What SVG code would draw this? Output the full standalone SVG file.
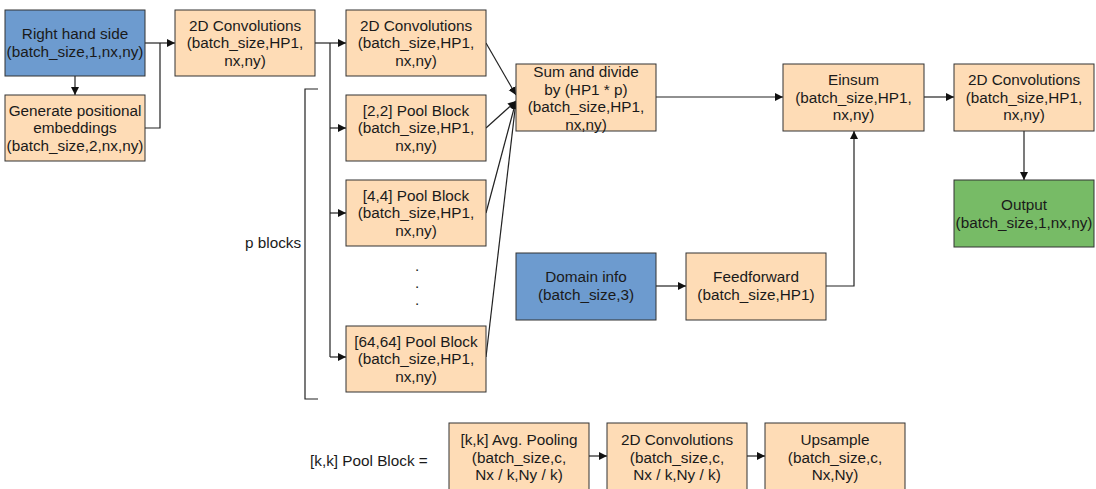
<svg xmlns="http://www.w3.org/2000/svg" width="1096" height="489" viewBox="0 0 1096 489">
<style>
.box{stroke:#333;stroke-width:1}
.o{fill:#fedcb6}
.b{fill:#6d9bcf}
.g{fill:#77bb66}
text{font-family:"Liberation Sans",Arial,sans-serif;font-size:15.3px;fill:#1a1a1a}
.c{text-anchor:middle}
.ln{fill:none;stroke:#222;stroke-width:1.2}
</style>
<defs>
<marker id="ah" markerWidth="10" markerHeight="10" refX="8" refY="4" orient="auto" markerUnits="userSpaceOnUse">
<path d="M0,0 L8,4 L0,8 Z" fill="#111"/>
</marker>
</defs>
<rect width="1096" height="489" fill="#fff"/>

<g id="connectors">
<path class="ln" d="M75,76 V95" marker-end="url(#ah)"/>
<path class="ln" d="M145,43 H175" marker-end="url(#ah)"/>
<path class="ln" d="M145,128 H160 V43"/>
<path class="ln" d="M315,43 H346" marker-end="url(#ah)"/>
<path class="ln" d="M330,43 V357"/>
<path class="ln" d="M330,128 H346" marker-end="url(#ah)"/>
<path class="ln" d="M330,213 H346" marker-end="url(#ah)"/>
<path class="ln" d="M330,357 H346" marker-end="url(#ah)"/>
<path class="ln" d="M486,43 L516,95" marker-end="url(#ah)"/>
<path class="ln" d="M486,128 L516,101" marker-end="url(#ah)"/>
<path class="ln" d="M486,213 L516,101" marker-end="url(#ah)"/>
<path class="ln" d="M486,357 L516,101" marker-end="url(#ah)"/>
<path class="ln" d="M656,97 H783" marker-end="url(#ah)"/>
<path class="ln" d="M924,97 H954" marker-end="url(#ah)"/>
<path class="ln" d="M1024,131 V180" marker-end="url(#ah)"/>
<path class="ln" d="M656,286 H686" marker-end="url(#ah)"/>
<path class="ln" d="M826,286 H854 V131" marker-end="url(#ah)"/>
<path class="ln" d="M589,456 H607" marker-end="url(#ah)"/>
<path class="ln" d="M747,456 H765" marker-end="url(#ah)"/>
</g>

<g id="bracket">
<path class="ln" d="M318,89 H305 V399 H318"/>
<text x="245" y="248">p blocks</text>
</g>

<g id="rhs">
<rect class="box b" x="5" y="10" width="140" height="66"/>
<text class="c" x="75" y="39">Right hand side</text>
<text class="c" x="75" y="56.5">(batch_size,1,nx,ny)</text>
</g>
<g id="posemb">
<rect class="box o" x="5" y="95" width="140" height="66"/>
<text class="c" x="75" y="115.5">Generate positional</text>
<text class="c" x="75" y="133">embeddings</text>
<text class="c" x="75" y="150.5">(batch_size,2,nx,ny)</text>
</g>
<g id="conv1">
<rect class="box o" x="175" y="10" width="140" height="66"/>
<text class="c" x="245" y="30.5">2D Convolutions</text>
<text class="c" x="245" y="48">(batch_size,HP1,</text>
<text class="c" x="245" y="65.5">nx,ny)</text>
</g>
<g id="conv2">
<rect class="box o" x="346" y="10" width="140" height="66"/>
<text class="c" x="416" y="30.5">2D Convolutions</text>
<text class="c" x="416" y="48">(batch_size,HP1,</text>
<text class="c" x="416" y="65.5">nx,ny)</text>
</g>
<g id="pool2">
<rect class="box o" x="346" y="95" width="140" height="66"/>
<text class="c" x="416" y="115.5">[2,2] Pool Block</text>
<text class="c" x="416" y="133">(batch_size,HP1,</text>
<text class="c" x="416" y="150.5">nx,ny)</text>
</g>
<g id="pool4">
<rect class="box o" x="346" y="180" width="140" height="66"/>
<text class="c" x="416" y="200.5">[4,4] Pool Block</text>
<text class="c" x="416" y="218">(batch_size,HP1,</text>
<text class="c" x="416" y="235.5">nx,ny)</text>
</g>
<g id="dots">
<text class="c" x="417" y="271">.</text>
<text class="c" x="417" y="288">.</text>
<text class="c" x="417" y="305">.</text>
</g>
<g id="pool64">
<rect class="box o" x="346" y="326" width="140" height="66"/>
<text class="c" x="416" y="346.5">[64,64] Pool Block</text>
<text class="c" x="416" y="364">(batch_size,HP1,</text>
<text class="c" x="416" y="381.5">nx,ny)</text>
</g>
<g id="sum">
<rect class="box o" x="516" y="64" width="140" height="67"/>
<text class="c" x="586" y="77">Sum and divide</text>
<text class="c" x="586" y="94.5">by (HP1 * p)</text>
<text class="c" x="586" y="112">(batch_size,HP1,</text>
<text class="c" x="586" y="129.5">nx,ny)</text>
</g>
<g id="einsum">
<rect class="box o" x="783" y="64" width="141" height="67"/>
<text class="c" x="853.5" y="85">Einsum</text>
<text class="c" x="853.5" y="102.5">(batch_size,HP1,</text>
<text class="c" x="853.5" y="120">nx,ny)</text>
</g>
<g id="conv3">
<rect class="box o" x="954" y="64" width="140" height="67"/>
<text class="c" x="1024" y="85">2D Convolutions</text>
<text class="c" x="1024" y="102.5">(batch_size,HP1,</text>
<text class="c" x="1024" y="120">nx,ny)</text>
</g>
<g id="output">
<rect class="box g" x="954" y="180" width="140" height="67"/>
<text class="c" x="1024" y="210">Output</text>
<text class="c" x="1024" y="227.5">(batch_size,1,nx,ny)</text>
</g>
<g id="domain">
<rect class="box b" x="516" y="253" width="140" height="67"/>
<text class="c" x="586" y="282">Domain info</text>
<text class="c" x="586" y="299.5">(batch_size,3)</text>
</g>
<g id="ff">
<rect class="box o" x="686" y="253" width="140" height="67"/>
<text class="c" x="756" y="282">Feedforward</text>
<text class="c" x="756" y="299.5">(batch_size,HP1)</text>
</g>

<g id="legend">
<text x="310" y="466">[k,k] Pool Block =</text>
</g>
<g id="avgpool">
<rect class="box o" x="449" y="423" width="140" height="68"/>
<text class="c" x="519" y="445">[k,k] Avg. Pooling</text>
<text class="c" x="519" y="462.5">(batch_size,c,</text>
<text class="c" x="519" y="480">Nx / k,Ny / k)</text>
</g>
<g id="convk">
<rect class="box o" x="607" y="423" width="140" height="68"/>
<text class="c" x="677" y="445">2D Convolutions</text>
<text class="c" x="677" y="462.5">(batch_size,c,</text>
<text class="c" x="677" y="480">Nx / k,Ny / k)</text>
</g>
<g id="upsample">
<rect class="box o" x="765" y="423" width="140" height="68"/>
<text class="c" x="835" y="445">Upsample</text>
<text class="c" x="835" y="462.5">(batch_size,c,</text>
<text class="c" x="835" y="480">Nx,Ny)</text>
</g>
</svg>
